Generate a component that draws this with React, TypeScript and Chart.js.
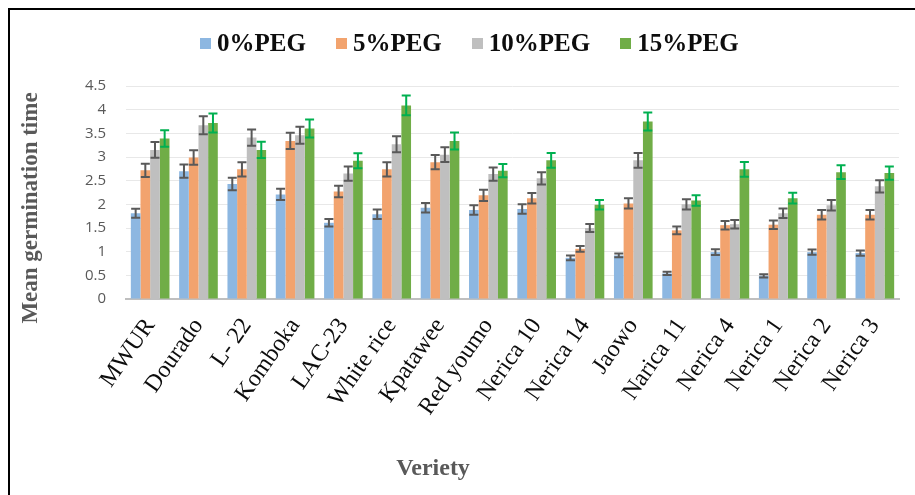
import React, { useEffect, useRef } from 'react';
import { Chart, registerables } from 'chart.js';

Chart.register(...registerables);

const varieties = ['MWUR', 'Dourado', 'L- 22', 'Komboka', 'LAC-23', 'White rice', 'Kpatawee', 'Red youmo', 'Nerica 10', 'Nerica 14', 'Jaowo', 'Narica 11', 'Nerica 4', 'Nerica 1', 'Nerica 2', 'Nerica 3'];
const seriesNames = ['0%PEG', '5%PEG', '10%PEG', '15%PEG'];
const seriesColors = ['#8DB7E1', '#F2A36E', '#BFBFBF', '#70AD47'];
const errorColors = ['#595959', '#595959', '#595959', '#00B050'];

const peg0 = [1.81, 2.70, 2.43, 2.21, 1.61, 1.79, 1.93, 1.88, 1.90, 0.87, 0.92, 0.54, 0.99, 0.49, 0.99, 0.97];
const peg5 = [2.72, 2.99, 2.74, 3.34, 2.27, 2.74, 2.89, 2.19, 2.13, 1.06, 2.02, 1.45, 1.56, 1.57, 1.78, 1.78];
const peg10 = [3.15, 3.67, 3.41, 3.46, 2.65, 3.27, 3.05, 2.64, 2.55, 1.50, 2.93, 2.00, 1.58, 1.81, 1.98, 2.38];
const peg15 = [3.39, 3.72, 3.15, 3.60, 2.92, 4.09, 3.34, 2.71, 2.93, 1.99, 3.75, 2.08, 2.74, 2.13, 2.68, 2.66];

const err0 = [0.095, 0.14, 0.13, 0.12, 0.08, 0.10, 0.10, 0.10, 0.10, 0.05, 0.04, 0.035, 0.06, 0.035, 0.055, 0.055];
const err5 = [0.14, 0.155, 0.15, 0.17, 0.12, 0.15, 0.15, 0.12, 0.11, 0.06, 0.11, 0.08, 0.09, 0.09, 0.10, 0.10];
const err10 = [0.165, 0.19, 0.17, 0.18, 0.15, 0.17, 0.155, 0.14, 0.13, 0.085, 0.155, 0.11, 0.09, 0.10, 0.11, 0.13];
const err15 = [0.175, 0.20, 0.17, 0.19, 0.16, 0.21, 0.18, 0.14, 0.155, 0.10, 0.19, 0.11, 0.155, 0.115, 0.145, 0.14];

const yMin = 0;
const yMax = 4.5;
const yStep = 0.5;

const yTitle = 'Mean germination time';
const xTitle = 'Veriety';

const seriesValues = [peg0, peg5, peg10, peg15];
const seriesErrors = [err0, err5, err10, err15];

const errorBarPlugin = {
  id: 'errorBars',
  afterDatasetsDraw(chart: any) {
    const ctx = chart.ctx;
    const yScale = chart.scales.y;
    chart.data.datasets.forEach((ds: any, i: number) => {
      const meta = chart.getDatasetMeta(i);
      if (meta.hidden) return;
      ctx.save();
      ctx.strokeStyle = ds.errorColor;
      ctx.lineWidth = 2;
      meta.data.forEach((bar: any, j: number) => {
        const v = ds.data[j];
        const e = ds.errors[j];
        const yt = yScale.getPixelForValue(v + e);
        const yb = yScale.getPixelForValue(v - e);
        const x = bar.x;
        const cap = 4.5;
        ctx.beginPath();
        ctx.moveTo(x, yt);
        ctx.lineTo(x, yb);
        ctx.moveTo(x - cap, yt);
        ctx.lineTo(x + cap, yt);
        ctx.moveTo(x - cap, yb);
        ctx.lineTo(x + cap, yb);
        ctx.stroke();
      });
      ctx.restore();
    });
  },
};

export default function App() {
  const canvasRef = useRef<HTMLCanvasElement | null>(null);

  useEffect(() => {
    if (!canvasRef.current) return;
    const chart = new Chart(canvasRef.current, {
      type: 'bar',
      data: {
        labels: varieties,
        datasets: seriesNames.map((name, i) => ({
          label: name,
          data: seriesValues[i],
          errors: seriesErrors[i],
          errorColor: errorColors[i],
          backgroundColor: seriesColors[i],
          borderWidth: 0,
          categoryPercentage: 0.8,
          barPercentage: 1.0,
        })) as any,
      },
      options: {
        responsive: false,
        animation: false,
        devicePixelRatio: 1,
        layout: { padding: { top: 86, right: 16, left: 0, bottom: 0 } },
        plugins: {
          legend: { display: false },
          tooltip: { enabled: false },
          title: { display: false },
        },
        scales: {
          x: {
            grid: { display: false, drawTicks: false },
            border: { display: true, color: '#BFBFBF', width: 2 },
            ticks: {
              autoSkip: false,
              minRotation: 55,
              maxRotation: 55,
              padding: 14,
              color: '#0D0D0D',
              font: { family: '"Liberation Serif", "Times New Roman", serif', size: 24 },
            },
            afterFit(scale: any) {
              scale.height = 196;
            },
          },
          y: {
            min: yMin,
            max: yMax,
            grid: { color: '#E8E8E8', lineWidth: 1, drawTicks: false },
            border: { display: false },
            ticks: {
              stepSize: yStep,
              padding: 20,
              color: '#595959',
              font: { family: '"Open Sans", "Liberation Sans", sans-serif', size: 15 },
              callback: (v: any) => String(+v),
            },
            afterFit(scale: any) {
              scale.width = 126;
            },
          },
        },
      },
      plugins: [errorBarPlugin],
    } as any);
    return () => chart.destroy();
  }, []);

  const serif = '"Liberation Serif", "Times New Roman", serif';

  return (
    <div style={{ position: 'fixed', left: 0, top: 0, width: 915, height: 495, overflow: 'hidden', background: '#fff' }}>
      <div style={{ position: 'absolute', left: 8, top: 8, width: 1000, height: 1000, border: '2px solid #000', boxSizing: 'border-box' }} />
      <div style={{ position: 'absolute', left: 0, top: 0, width: 915, height: 495 }}>
        <canvas ref={canvasRef} width={915} height={495} style={{ width: 915, height: 495, display: 'block' }} />
      </div>
      <div style={{ position: 'absolute', left: 200, top: 29, height: 28, display: 'flex', alignItems: 'center', whiteSpace: 'nowrap' }}>
        {seriesNames.map((name, i) => (
          <div key={name} style={{ display: 'flex', alignItems: 'center', marginRight: i < seriesNames.length - 1 ? 30 : 0 }}>
            <div style={{ width: 11, height: 11, background: seriesColors[i], marginRight: 6 }} />
            <span style={{ fontFamily: serif, fontWeight: 'bold', fontSize: 25, lineHeight: '28px', color: '#0D0D0D' }}>{name}</span>
          </div>
        ))}
      </div>
      <div style={{ position: 'absolute', left: -120.5, top: 194, width: 300, height: 28, lineHeight: '28px', textAlign: 'center', transform: 'rotate(-90deg)', fontFamily: serif, fontWeight: 'bold', fontSize: 23, color: '#595959', whiteSpace: 'nowrap' }}>
        {yTitle}
      </div>
      <div style={{ position: 'absolute', left: 333, top: 453, width: 200, height: 28, lineHeight: '28px', textAlign: 'center', fontFamily: serif, fontWeight: 'bold', fontSize: 24, color: '#595959', whiteSpace: 'nowrap' }}>
        {xTitle}
      </div>
    </div>
  );
}
